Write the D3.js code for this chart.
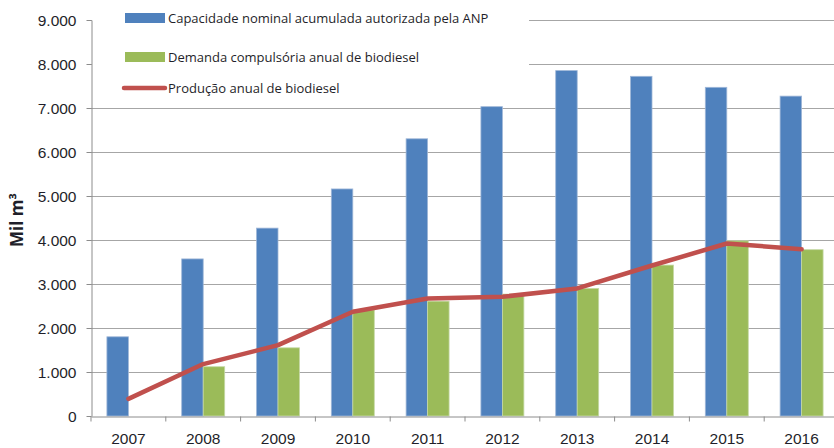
<!DOCTYPE html>
<html>
<head>
<meta charset="utf-8">
<script src="https://cdn.jsdelivr.net/npm/d3@7"></script>
<style>
  body { margin: 0; background: #fff; }
  svg { display: block; font-family: "Open Sans", "Noto Sans", sans-serif; }
</style>
</head>
<body>
<svg id="chart"></svg>
<script>
// dados (mil m3)
var anos = ["2007", "2008", "2009", "2010", "2011", "2012", "2013", "2014", "2015", "2016"];
var capacidade = [1800, 3570, 4270, 5160, 6300, 7030, 7850, 7720, 7470, 7270];
var demanda = [0, 1120, 1550, 2410, 2610, 2770, 2900, 3430, 3980, 3780];
var producao = [390, 1180, 1610, 2370, 2670, 2710, 2900, 3420, 3920, 3790];
var yTicks = [0, 1000, 2000, 3000, 4000, 5000, 6000, 7000, 8000, 9000];
var series = ["Capacidade nominal acumulada autorizada pela ANP", "Demanda compulsória anual de biodiesel", "Produção anual de biodiesel"];
var cores = ["#4F81BD", "#9BBB59", "#C0504D"];

var svg = d3.select("#chart")
    .attr("width", 834)
    .attr("height", 448);

var xScale = d3.scaleBand().domain(anos).range([91, 839]);
var xInner = d3.scaleBand().domain([0, 1]).range([0, xScale.bandwidth()]).paddingOuter(0.74);
var yScale = d3.scaleLinear().domain([0, 9000]).range([416, 20]);

var fmt = d3.formatLocale({decimal: ",", thousands: ".", grouping: [3], currency: ["R$", ""]}).format(",");

// gridlines
svg.append("g")
    .selectAll("line")
    .data(yTicks.filter(d => d > 0))
    .enter().append("line")
    .attr("x1", 91)
    .attr("x2", 834)
    .attr("y1", d => Math.round(yScale(d)) + 0.5)
    .attr("y2", d => Math.round(yScale(d)) + 0.5)
    .attr("stroke", "#a6a6a6")
    .attr("stroke-width", 1);

// legend background hides the top gridlines
svg.append("rect")
    .attr("x", 92).attr("y", 0)
    .attr("width", 437).attr("height", 104)
    .attr("fill", "#fff");

// bars
var barData = [];
anos.forEach(function(a, i) {
    barData.push({ano: a, s: 0, v: capacidade[i]});
    if (demanda[i] > 0) barData.push({ano: a, s: 1, v: demanda[i]});
});

svg.append("g")
    .selectAll("rect")
    .data(barData)
    .enter().append("rect")
    .attr("x", d => xScale(d.ano) + xInner(d.s))
    .attr("y", d => yScale(d.v))
    .attr("width", xInner.bandwidth())
    .attr("height", d => yScale(0) - yScale(d.v))
    .attr("fill", d => cores[d.s])
    .attr("stroke", d => d.s === 0 ? "#9fb7d8" : "#c6d9a6")
    .attr("stroke-width", 0.8);

// axes
var yAxis = svg.append("g")
    .attr("transform", "translate(91.5,0)")
    .call(d3.axisLeft(yScale).tickValues(yTicks).tickFormat(fmt).tickSizeInner(5).tickSizeOuter(0).tickPadding(10));

var xAxis = svg.append("g")
    .attr("transform", "translate(0,416.5)")
    .call(d3.axisBottom(xScale).tickSize(0).tickPadding(16));

xAxis.selectAll(".tick").append("line")
    .attr("x1", -xScale.bandwidth() / 2).attr("x2", -xScale.bandwidth() / 2)
    .attr("y1", 0).attr("y2", 5)
    .attr("stroke", "#8c8c8c");

[yAxis, xAxis].forEach(function(ax) {
    ax.select(".domain").attr("stroke", "#8c8c8c");
    ax.selectAll(".tick line").attr("stroke", "#8c8c8c");
    ax.selectAll("text")
        .attr("fill", "#1f1f2a")
        .style("font-size", "15.5px");
});
yAxis.selectAll("text").attr("dy", "0.36em");

// producao line
var linha = d3.line()
    .x((d, i) => xScale(anos[i]) + xScale.bandwidth() / 2)
    .y(d => yScale(d));

svg.append("path")
    .datum(producao)
    .attr("d", linha)
    .attr("fill", "none")
    .attr("stroke", cores[2])
    .attr("stroke-width", 4.5)
    .attr("stroke-linejoin", "round")
    .attr("stroke-linecap", "round");

// y title
svg.append("text")
    .attr("transform", "translate(23,220) rotate(-90)")
    .attr("text-anchor", "middle")
    .attr("fill", "#1f1f2a")
    .style("font-size", "17px")
    .style("font-weight", "bold")
    .text("Mil m³");

// legend
var leg = svg.append("g");
var legY = [18, 57, 88];
series.forEach(function(s, i) {
    if (i < 2) {
        leg.append("rect")
            .attr("x", 125).attr("y", legY[i] - 5)
            .attr("width", 40).attr("height", 10)
            .attr("fill", cores[i]);
    } else {
        leg.append("line")
            .attr("x1", 124).attr("x2", 165)
            .attr("y1", legY[i]).attr("y2", legY[i])
            .attr("stroke", cores[i])
            .attr("stroke-width", 4.5)
            .attr("stroke-linecap", "round");
    }
    leg.append("text")
        .attr("x", 168)
        .attr("y", legY[i])
        .attr("dy", "0.35em")
        .attr("fill", "#1f1f2a")
        .style("font-size", "13px")
        .text(s);
});
</script>
</body>
</html>
